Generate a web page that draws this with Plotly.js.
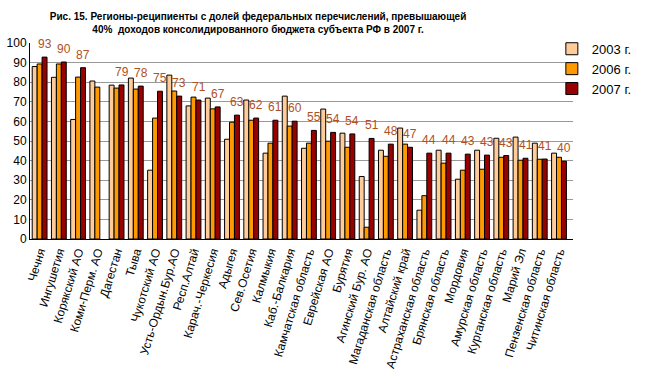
<!DOCTYPE html>
<html>
<head>
<meta charset="utf-8">
<script src="https://cdn.plot.ly/plotly-3.0.1.min.js"></script>
<style>html,body{margin:0;padding:0;background:#fff}#chart{width:650px;height:384px}</style>
</head>
<body>
<div id="chart"></div>
<script>
const categories = ["Чечня", "Ингушетия", "Корякский АО", "Коми-Перм. АО", "Дагестан", "Тыва", "Чукотский АО", "Усть-Ордын.Бур.АО", "Респ.Алтай", "Карач.-Черкесия", "Адыгея", "Сев.Осетия", "Калмыкия", "Каб.-Балкария", "Камчатская область", "Еврейская АО", "Бурятия", "Агинский Бур. АО", "Магаданская область", "Алтайский край", "Астраханская область", "Брянская область", "Мордовия", "Амурская область", "Курганская область", "Марий Эл", "Пензенская область", "Читинская область"];
const seriesNames = ["2003 г.", "2006 г.", "2007 г."];
const v2003 = [88, 82.5, 61, 80.6, 78.5, 82.1, 35.1, 83.6, 67.9, 71.9, 50.9, 70.9, 43.8, 72.9, 46.3, 66.3, 54, 31.9, 45.3, 56.6, 14.7, 45.3, 30.5, 45.3, 51.4, 52, 48.9, 43.8];
const v2006 = [89.3, 89.3, 82.6, 77.5, 77, 76.5, 61.7, 75.5, 72.4, 66.4, 59.6, 60.6, 48.9, 57.6, 48.9, 49.9, 46.8, 6, 42.2, 48.4, 22.1, 38.7, 35.1, 35.6, 41.7, 40.2, 40.7, 41.7];
const v2007 = [92.8, 90.3, 87.4, null, 78.6, 78, 75.4, 72.9, 70.9, 67.4, 63.2, 61.7, 60.6, 60.1, 55.4, 54.4, 53.6, 51.3, 48.4, 46.8, 43.8, 43.8, 43.3, 42.8, 42.6, 41.2, 40.8, 39.7];
const labels2007 = v2007.map(v => v === null ? "" : String(Math.round(v)));

const colors = ["#FFCC99", "#FF9900", "#990000"];
const base = "Liberation Sans, Arial, sans-serif";

function bar(name, y, color) {
  return {
    type: "bar", name: name, x: categories, y: y,
    marker: {color: color, line: {color: "#000", width: 1}},
    hoverinfo: "x+y+name"
  };
}

const data = [
  bar(seriesNames[0], v2003, colors[0]),
  bar(seriesNames[1], v2006, colors[1]),
  bar(seriesNames[2], v2007, colors[2])
];

const annotations = [];
categories.forEach((c, i) => {
  if (v2007[i] === null) return;
  annotations.push({
    x: c, y: v2007[i], xref: "x", yref: "y", text: labels2007[i], showarrow: false,
    xshift: 5, yshift: 13, font: {family: base, size: 12, color: "#B0501E"}
  });
});

const layout = {
  width: 650, height: 384,
  margin: {l: 30, r: 77, t: 43, b: 145, autoexpand: false},
  paper_bgcolor: "#fff", plot_bgcolor: "#fff",
  barmode: "group", bargap: 0.23, bargroupgap: 0,
  font: {family: base, size: 11, color: "#000"},
  title: {
    text: "<b>Рис. 15. Регионы-реципиенты с долей федеральных перечислений, превышающей<br>40%\u00a0 доходов консолидированного бюджета субъекта РФ в 2007 г.</b>",
    font: {family: base, size: 10, color: "#000"},
    x: 0.397, xref: "container", xanchor: "center", y: 0.948, yref: "container", yanchor: "middle"
  },
  xaxis: {
    type: "category", tickangle: -73, showline: true, linecolor: "#000", linewidth: 1,
    ticks: "", tickfont: {family: base, size: 12, color: "#000"}, showgrid: false,
    automargin: false
  },
  yaxis: {
    range: [0, 100], dtick: 10, showline: true, linecolor: "#000", linewidth: 1,
    showgrid: true, gridcolor: "#999", gridwidth: 1, zeroline: false,
    ticks: "", tickfont: {family: base, size: 12, color: "#000"}, automargin: false
  },
  legend: {
    xref: "container", yref: "container",
    x: 0.849, xanchor: "left", y: 0.912, yanchor: "top",
    font: {family: base, size: 13, color: "#000"},
    bgcolor: "rgba(0,0,0,0)", tracegroupgap: 0, itemwidth: 30
  },
  annotations: annotations,
  showlegend: true
};

Plotly.newPlot("chart", data, layout, {displayModeBar: false, staticPlot: true});
</script>
</body>
</html>
